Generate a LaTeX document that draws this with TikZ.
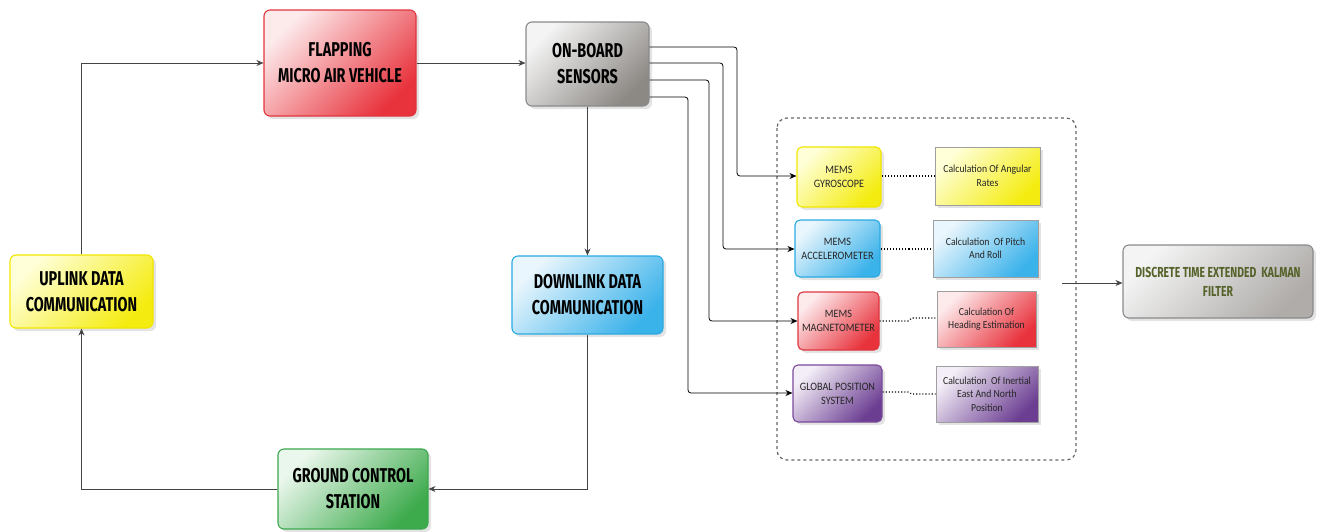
\documentclass[tikz,border=0pt]{standalone}
\usepackage{fontspec}
\setmainfont{Carlito}
\newfontfamily\headfont[FakeStretch=0.72]{Fira Sans}
\newfontfamily\smallfont[FakeStretch=0.9]{Carlito}
\usetikzlibrary{arrows.meta,shadows}
\definecolor{redL}{HTML}{FDEBEC}\definecolor{redD}{HTML}{E8323C}\definecolor{redB}{HTML}{E0353F}
\definecolor{grayL}{HTML}{F4F4F4}\definecolor{grayD}{HTML}{8C8884}\definecolor{grayB}{HTML}{8A8A8A}
\definecolor{yelL}{HTML}{FFFFD8}\definecolor{yelD}{HTML}{F4EC10}\definecolor{yelB}{HTML}{F2E600}
\definecolor{bluL}{HTML}{EAF6FD}\definecolor{bluD}{HTML}{3AB2EA}\definecolor{bluB}{HTML}{2AAAE2}
\definecolor{grnL}{HTML}{EAF7EC}\definecolor{grnD}{HTML}{3DAA4C}\definecolor{grnB}{HTML}{3BA84E}
\definecolor{purL}{HTML}{F3EEF7}\definecolor{purD}{HTML}{6C3E92}\definecolor{purB}{HTML}{7A4A9C}
\definecolor{kalT}{HTML}{55622A}
\definecolor{lineC}{HTML}{444444}
\tikzset{
  shd/.style={drop shadow={opacity=0.22,shadow xshift=3pt,shadow yshift=-3pt}},
  mainbox/.style n args={3}{draw=#3, line width=1.1pt, rounded corners=6pt, inner sep=0pt,
    align=center, top color=#1, bottom color=#2, shading angle=45, shd,
    font=\headfont\bfseries\fontsize{20}{26}\selectfont},
  sensbox/.style n args={3}{draw=#3, line width=1.1pt, rounded corners=5pt, inner sep=0pt,
    align=center, top color=#1, bottom color=#2, shading angle=45, shd,
    font=\smallfont\fontsize{11.3}{14}\selectfont, text=black!85},
  calcbox/.style n args={2}{draw=gray!75, line width=0.6pt, inner sep=0pt,
    align=center, top color=#1, bottom color=#2, shading angle=45, shd,
    font=\smallfont\fontsize{10.8}{13.5}\selectfont, text=black!85},
  conn/.style={draw=lineC, line width=0.8pt, -{Stealth[length=7pt,width=6pt]}},
  sconn/.style={draw=black, line width=0.8pt, rounded corners=3pt, -{Stealth[length=7pt,width=6pt]}},
  dotline/.style={draw=black, line width=1.1pt, dotted},
}
\begin{document}
\begin{tikzpicture}[x=1pt,y=-1pt]
\useasboundingbox (0,0) rectangle (1317,531);
% dashed region
\draw[gray!80!black, line width=1.2pt, dashed, rounded corners=10pt] (777,118) rectangle (1076,460);
% main boxes
\node[mainbox={redL}{redD}{redB}, minimum width=152pt, minimum height=106pt] (flap) at (340,63) {FLAPPING\\MICRO AIR VEHICLE};
\node[mainbox={grayL}{grayD}{grayB}, minimum width=123pt, minimum height=84pt] (onb) at (587.5,64) {ON-BOARD\\SENSORS};
\node[mainbox={yelL}{yelD}{yelB}, minimum width=143pt, minimum height=73pt] (up) at (81.5,291.5) {UPLINK DATA\\COMMUNICATION};
\node[mainbox={bluL}{bluD}{bluB}, minimum width=151pt, minimum height=78pt] (down) at (587.5,295) {DOWNLINK DATA\\COMMUNICATION};
\node[mainbox={grnL}{grnD}{grnB}, minimum width=150pt, minimum height=80pt] (gcs) at (353,489) {GROUND CONTROL\\STATION};
\node[mainbox={grayL}{grayD!70}{grayB}, minimum width=190pt, minimum height=73pt, text=kalT,
  font=\headfont\bfseries\fontsize{14.5}{19}\selectfont] (kal) at (1218,281.5) {DISCRETE TIME EXTENDED\ \ KALMAN\\FILTER};
% sensors
\node[sensbox={yelL}{yelD}{yelB}, minimum width=84pt, minimum height=60pt] (gyro) at (839,177) {MEMS\\GYROSCOPE};
\node[sensbox={bluL}{bluD}{bluB}, minimum width=85pt, minimum height=57pt] (acc) at (837.5,248.5) {MEMS\\ACCELEROMETER};
\node[sensbox={redL}{redD}{redB}, minimum width=81pt, minimum height=58pt] (mag) at (838.5,321) {MEMS\\MAGNETOMETER};
\node[sensbox={purL}{purD}{purB}, minimum width=89pt, minimum height=57pt] (gps) at (837.5,393.5) {GLOBAL POSITION\\SYSTEM};
% calculations
\node[calcbox={yelL}{yelD}, minimum width=105pt, minimum height=58pt] (c1) at (987.5,176) {Calculation Of Angular\\Rates};
\node[calcbox={bluL}{bluD}, minimum width=105pt, minimum height=57pt] (c2) at (985.5,248.5) {Calculation\ \ Of Pitch\\And Roll};
\node[calcbox={redL}{redD}, minimum width=99pt, minimum height=56pt] (c3) at (986.5,319) {Calculation Of\\Heading Estimation};
\node[calcbox={purL}{purD}, minimum width=102pt, minimum height=56pt] (c4) at (987,394) {Calculation\ \ Of Inertial\\East And North\\Position};
% main loop
\draw[conn] (up.north) |- (flap.west);
\draw[conn] (flap.east) -- (flap.east -| onb.west);
\draw[conn] (onb.south) -- (down.north);
\draw[conn] (down.south) |- (gcs.east);
\draw[conn] (gcs.west) -| (up.south);
% sensor feeds
\draw[sconn] (onb.east |- 0,47) -| (737,176) -- (gyro.west |- 0,176);
\draw[sconn] (onb.east |- 0,63) -| (723,249) -- (acc.west |- 0,249);
\draw[sconn] (onb.east |- 0,80) -| (709,321) -- (mag.west |- 0,321);
\draw[sconn] (onb.east |- 0,97) -| (688,393) -- (gps.west |- 0,393);
% dotted links
\draw[dotline] (gyro.east |- 0,176) -- (c1.west |- 0,176);
\draw[dotline] (acc.east |- 0,249) -- (c2.west |- 0,249);
\draw[dotline] (mag.east |- 0,321) -- (908,321) -- (912,318) -- (c3.west |- 0,318);
\draw[dotline] (gps.east |- 0,392) -- (908,392) -- (912,394) -- (c4.west |- 0,394);
% to Kalman
\coordinate (kin) at (1062,283);
\draw[conn] (kin) -- (kin -| kal.west);
\end{tikzpicture}
\end{document}
